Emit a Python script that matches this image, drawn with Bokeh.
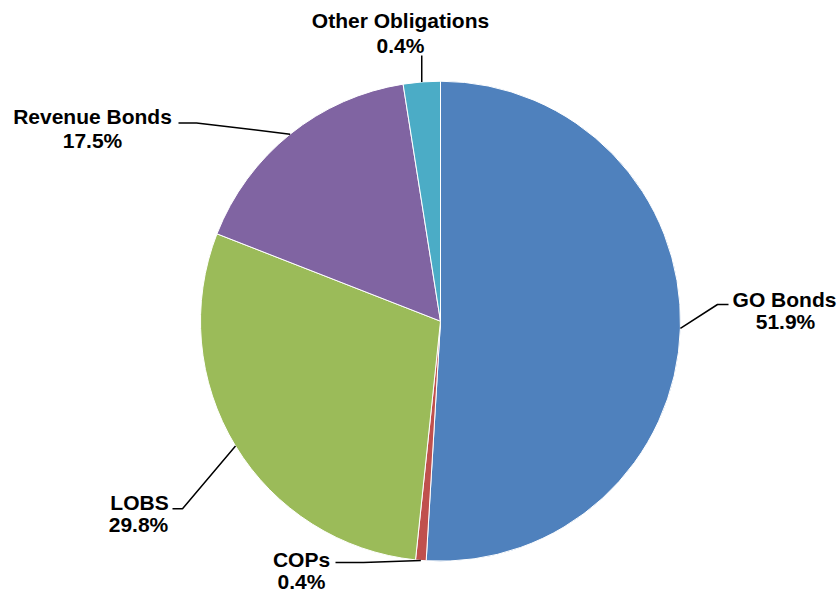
import numpy as np
from bokeh.plotting import figure
from bokeh.models import Range1d, ColumnDataSource
from bokeh.core.properties import value
from bokeh.embed import file_html
from bokeh.resources import INLINE

# ---- data ----
categories = ["GO Bonds", "COPs", "LOBS", "Revenue Bonds", "Other Obligations"]
shares = [50.95, 0.71, 29.27, 16.58, 2.49]          # slice sizes as drawn
label_pcts = ["51.9%", "0.4%", "29.8%", "17.5%", "0.4%"]  # printed labels

# ---- styles / layout ----
colors = ["#4F81BD", "#C0504D", "#9BBB59", "#8064A2", "#4BACC6"]
W, H = 839, 592


def X(px):
    return px


def Y(py):
    return H - py


cx, cy, R = X(440), Y(320.7), 240

frac = np.array(shares) / sum(shares)
cum = np.concatenate([[0.0], np.cumsum(frac)])
start = np.pi / 2 - 2 * np.pi * cum[1:]
end = np.pi / 2 - 2 * np.pi * cum[:-1]
mid = (cum[:-1] + cum[1:]) / 2 * 2 * np.pi  # clockwise from north

p = figure(width=W, height=H, x_range=Range1d(0, W), y_range=Range1d(0, H),
           output_backend="svg", toolbar_location=None, min_border=0)
p.axis.visible = False
p.grid.visible = False
p.outline_line_color = None
p.background_fill_color = "white"

src = ColumnDataSource(dict(start=start, end=end, color=colors, cat=categories))
p.wedge(x=cx, y=cy, radius=R, start_angle="start", end_angle="end",
        direction="anticlock", fill_color="color", line_color="white",
        line_width=1, source=src)

# leader line elbows (page coords) and label anchors
elbows = [
    [(717, 304), (728, 304)],
    [(363, 562), (335, 562)],
    [(182, 508.3), (172, 508.3)],
    [(196, 122.5), (178, 122.5)],
    [(None, 55)],
]
name_pos = [(784, 299), (301, 559), (139, 502), (92, 115.5), (400, 19.5)]
pct_pos = [(785, 321), (301, 581), (138, 524), (92, 139.7), (400, 44.5)]

for i in range(len(categories)):
    sx = cx + R * np.sin(mid[i])
    sy = cy + R * np.cos(mid[i])
    xs, ys = [sx], [sy]
    for (ex, ey) in elbows[i]:
        xs.append(sx if ex is None else X(ex))
        ys.append(Y(ey))
    p.line(xs, ys, line_color="black", line_width=1.5)

font = value("Liberation Sans")
p.text(x=[X(a) for a, b in name_pos], y=[Y(b) for a, b in name_pos], text=categories,
       text_font=font, text_font_style="bold", text_font_size="21px",
       text_align="center", text_baseline="middle", text_color="black")
p.text(x=[X(a) for a, b in pct_pos], y=[Y(b) for a, b in pct_pos], text=label_pcts,
       text_font=font, text_font_style="bold", text_font_size="21px",
       text_align="center", text_baseline="middle", text_color="black")

open("out.html", "w").write(file_html(p, INLINE))
